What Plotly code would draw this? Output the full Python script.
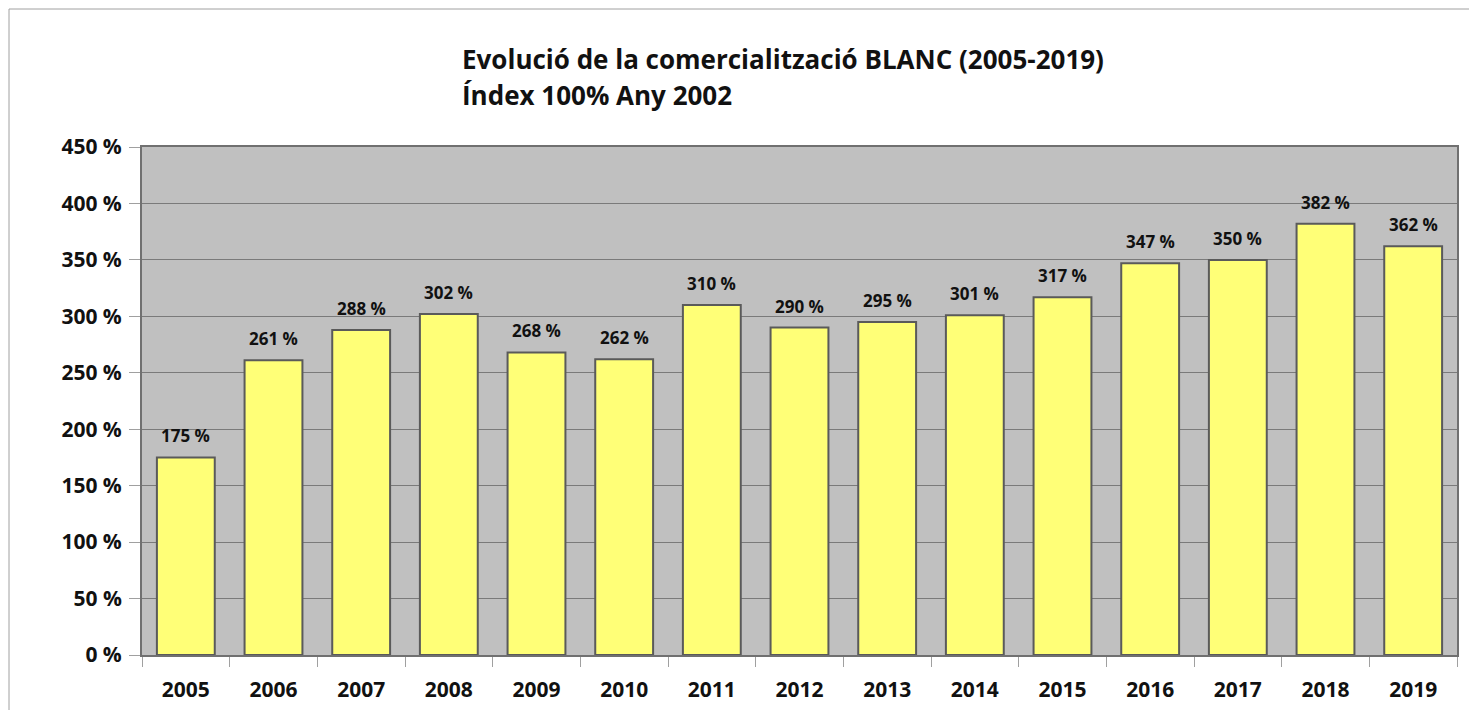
import plotly.graph_objects as go

years = ["2005", "2006", "2007", "2008", "2009", "2010", "2011", "2012",
         "2013", "2014", "2015", "2016", "2017", "2018", "2019"]
index_pct = [175, 261, 288, 302, 268, 262, 310, 290, 295, 301, 317, 347, 350, 382, 362]

title_line1 = "Evolució de la comercialització BLANC (2005-2019)"
title_line2 = "Índex 100% Any 2002"

# page body has an 8px margin, so the figure is drawn 8px smaller
OFF = 8
W, H = 1477 - OFF, 710 - OFF
L, R, T, B = 142 - OFF, 20, 147 - OFF, 55
pw, ph = W - L - R, H - T - B

fig = go.Figure()
fig.add_trace(go.Bar(
    x=years, y=index_pct,
    marker=dict(color="#ffff77", line=dict(color="#5a5a5a", width=2)),
    width=0.66,
    hoverinfo="x+y",
))

# value labels above the bars (x = category index)
for i, v in enumerate(index_pct):
    fig.add_annotation(x=i, y=v, text=f"{v} %", showarrow=False,
                       yanchor="bottom", yshift=8,
                       font=dict(size=17, color="#111111", weight="bold"))

fig.update_layout(
    width=W, height=H,
    margin=dict(l=L, r=R, t=T, b=B, autoexpand=False),
    paper_bgcolor="white",
    plot_bgcolor="#c0c0c0",
    showlegend=False,
    font=dict(family="Open Sans", color="#111111"),
)
fig.update_xaxes(
    type="category",
    range=[-0.5, len(years) - 0.5],
    tickson="boundaries",
    ticks="outside", ticklen=10, tickcolor="#a0a0a0", tickwidth=1,
    tickfont=dict(size=21, weight="bold"),
    tickangle=0,
    ticklabelstandoff=15,
    showline=True, linecolor="#707070", linewidth=2, mirror=True,
    showgrid=False,
    automargin=False,
)
fig.update_yaxes(
    range=[0, 450], dtick=50, ticksuffix=" %",
    ticks="outside", ticklen=11, tickcolor="#a0a0a0", tickwidth=1,
    tickfont=dict(size=21, weight="bold"),
    ticklabelstandoff=3,
    showline=True, linecolor="#707070", linewidth=2, mirror=True,
    gridcolor="#7a7a7a", gridwidth=1,
    zeroline=False,
    automargin=False,
)

# outer frame of the chart (page pixel 9 from top/left)
fig.add_shape(type="rect", xref="paper", yref="paper",
              x0=(9 - OFF - L) / pw, x1=(W + 20 - L) / pw,
              y0=-(B + 20) / ph, y1=(H - B - (9 - OFF)) / ph,
              line=dict(color="#a0a0a0", width=1), layer="below")

tx = (460 - OFF - L) / pw
fig.add_annotation(text=title_line1, xref="paper", yref="paper",
                   x=tx, y=(H - B - (59 - OFF)) / ph, xanchor="left", yanchor="middle",
                   showarrow=False, font=dict(size=26, weight="bold"))
fig.add_annotation(text=title_line2, xref="paper", yref="paper",
                   x=tx, y=(H - B - (95 - OFF)) / ph, xanchor="left", yanchor="middle",
                   showarrow=False, font=dict(size=26, weight="bold"))

fig.write_html("out.html")
